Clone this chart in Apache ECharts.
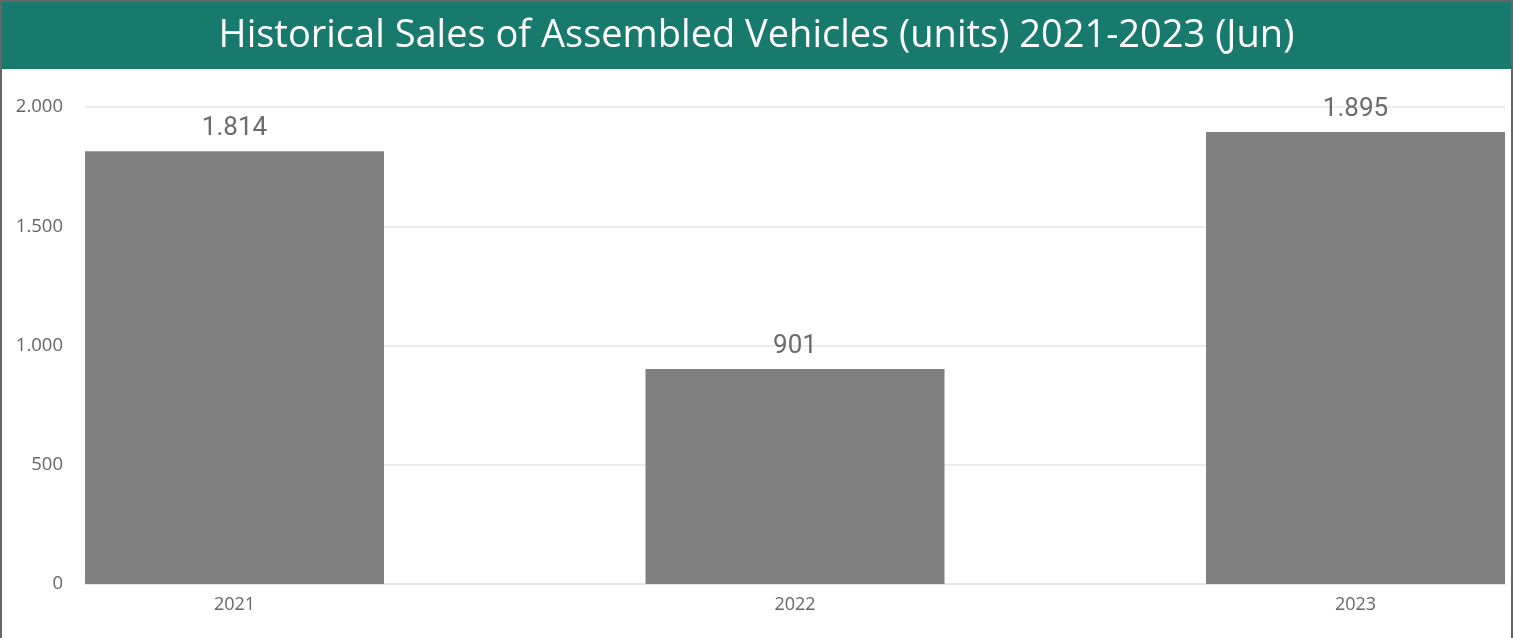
<!DOCTYPE html>
<html>
<head>
<meta charset="utf-8">
<script src="https://cdn.jsdelivr.net/npm/echarts@6/dist/echarts.min.js"></script>
<style>
html,body{margin:0;padding:0;background:#fff;}
#chart{width:1513px;height:638px;}
</style>
</head>
<body>
<div id="chart"></div>
<script>
const categories = ['2021', '2022', '2023'];
const sales = [1814, 901, 1895];
const yTicks = [0, 500, 1000, 1500, 2000];
const titleText = 'Historical Sales of Assembled Vehicles (units) 2021-2023 (Jun)';

function fmt(v) {
  return String(v).replace(/\B(?=(\d{3})+(?!\d))/g, '.');
}

const chart = echarts.init(document.getElementById('chart'));
const option = {
  animation: false,
  backgroundColor: '#ffffff',
  title: {
    text: titleText,
    left: 'center',
    top: 10,
    padding: 0,
    textStyle: {
      color: '#ffffff',
      fontFamily: 'Open Sans',
      fontWeight: 'normal',
      fontSize: 38,
      lineHeight: 52
    }
  },
  graphic: [
    { type: 'rect', z: -10, shape: { x: 2, y: 2, width: 1509, height: 67 }, style: { fill: '#187A6D' } },
    { type: 'rect', z: 100, shape: { x: 0, y: 0, width: 1513, height: 2 }, style: { fill: '#666666' } },
    { type: 'rect', z: 100, shape: { x: 0, y: 0, width: 2, height: 638 }, style: { fill: '#666666' } },
    { type: 'rect', z: 100, shape: { x: 1511, y: 0, width: 2, height: 638 }, style: { fill: '#666666' } }
  ],
  grid: [
    { left: 234.5, right: 157.5, top: 107, bottom: 54 },
    { left: 85, right: 8, top: 107, bottom: 54 }
  ],
  xAxis: [
    {
      type: 'category',
      gridIndex: 0,
      data: categories,
      boundaryGap: false,
      axisLine: { show: false },
      axisTick: { show: false },
      splitLine: { show: false },
      axisLabel: { color: '#666666', fontFamily: 'Open Sans', fontSize: 18, margin: 12 }
    },
    {
      type: 'category',
      gridIndex: 1,
      data: [''],
      axisLine: { show: true, lineStyle: { color: '#e6e6e6', width: 2 } },
      axisTick: { show: false },
      axisLabel: { show: false }
    }
  ],
  yAxis: [
    {
      type: 'value',
      gridIndex: 0,
      min: yTicks[0],
      max: yTicks[yTicks.length - 1],
      interval: 500,
      show: false,
      splitLine: { show: false }
    },
    {
      type: 'value',
      gridIndex: 1,
      min: yTicks[0],
      max: yTicks[yTicks.length - 1],
      interval: 500,
      axisLine: { show: false },
      axisTick: { show: false },
      axisLabel: {
        color: '#666666', fontFamily: 'Open Sans', fontSize: 18.5, margin: 22,
        formatter: v => fmt(v)
      },
      splitLine: { lineStyle: { color: '#e6e6e6', width: 1.5 } }
    }
  ],
  series: [
    {
      type: 'bar',
      xAxisIndex: 0,
      yAxisIndex: 0,
      data: sales,
      barWidth: 299,
      itemStyle: { color: '#808080' },
      label: {
        show: true,
        position: 'top',
        distance: 10,
        color: '#6a6a6a',
        fontFamily: 'Roboto',
        fontWeight: 'normal',
        fontSize: 26,
        formatter: p => fmt(p.value)
      }
    }
  ]
};
chart.setOption(option);
</script>
</body>
</html>
